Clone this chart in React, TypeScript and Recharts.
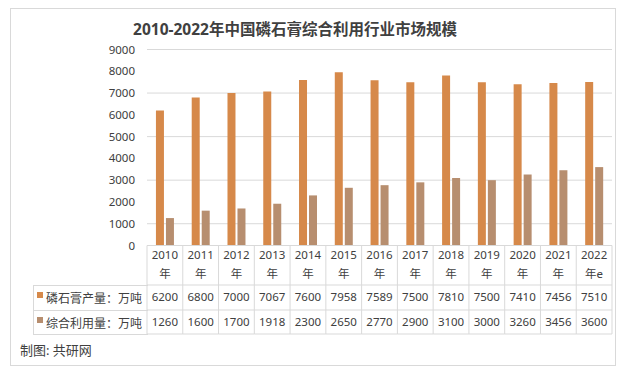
import { BarChart, Bar, XAxis, YAxis, CartesianGrid } from "recharts";

const categories = ["2010年", "2011年", "2012年", "2013年", "2014年", "2015年", "2016年", "2017年", "2018年", "2019年", "2020年", "2021年", "2022年e"];
const production = [6200, 6800, 7000, 7067, 7600, 7958, 7589, 7500, 7810, 7500, 7410, 7456, 7510];
const utilization = [1260, 1600, 1700, 1918, 2300, 2650, 2770, 2900, 3100, 3000, 3260, 3456, 3600];
const yTicks = [0, 1000, 2000, 3000, 4000, 5000, 6000, 7000, 8000, 9000];
const seriesNames = ["磷石膏产量：万吨", "综合利用量：万吨"];

const ORANGE = "#D6894A";
const BROWN = "#B78E6F";
const GRID = "#D9D9D9";
const TEXT = "#404040";
const FONT = "'Noto Sans', 'Noto Sans CJK SC', sans-serif";

const data = categories.map((c, i) => ({ name: c, production: production[i], utilization: utilization[i] }));

// plot geometry
const PLOT_LEFT = 147;
const PLOT_RIGHT = 612;
const PLOT_TOP = 49.5;
const PLOT_BOTTOM = 245.5;
const COL_W = (PLOT_RIGHT - PLOT_LEFT) / categories.length;

const TableColumn = (props: any) => {
  const { x, payload, index } = props;
  const y0 = PLOT_BOTTOM;
  const left = x - COL_W / 2;
  const right = x + COL_W / 2;
  const label: string = payload.value;
  const year = label.slice(0, 4);
  const suffix = label.slice(4);
  const isLast = index === categories.length - 1;
  return (
    <g>
      <line x1={left} y1={y0} x2={left} y2={334} stroke={GRID} />
      {isLast && <line x1={right} y1={y0} x2={right} y2={334} stroke={GRID} />}
      <line x1={left} y1={285} x2={right} y2={285} stroke={GRID} />
      <line x1={left} y1={310} x2={right} y2={310} stroke={GRID} />
      <line x1={left} y1={334} x2={right} y2={334} stroke={GRID} />
      <text x={x} y={259} textAnchor="middle" fontSize={11.5} fill={TEXT} fontFamily={FONT}>{year}</text>
      <text x={x} y={277.5} textAnchor="middle" fontSize={11.5} fill={TEXT} fontFamily={FONT}>{suffix}</text>
      <text x={x} y={301} textAnchor="middle" fontSize={11.5} fill={TEXT} fontFamily={FONT}>{production[index]}</text>
      <text x={x} y={325.5} textAnchor="middle" fontSize={11.5} fill={TEXT} fontFamily={FONT}>{utilization[index]}</text>
    </g>
  );
};

export default function App() {
  return (
    <div style={{ position: "absolute", left: 0, top: 0, width: 621, height: 374, background: "#fff", fontFamily: FONT }}>
      <div style={{ position: "absolute", left: 10, top: 8, width: 604, height: 356, border: `1px solid ${GRID}` }} />
      <div style={{ position: "absolute", left: 0, top: 17, width: 590, textAlign: "center", fontSize: 15.5, fontWeight: 700, color: TEXT }}>
        2010-2022年中国磷石膏综合利用行业市场规模
      </div>
      <BarChart
        width={621}
        height={374}
        data={data}
        margin={{ top: PLOT_TOP, right: 621 - PLOT_RIGHT, bottom: 0, left: 0 }}
        barCategoryGap="25%"
        barGap={2}
      >
        <CartesianGrid vertical={false} stroke={GRID} />
        <YAxis
          width={PLOT_LEFT}
          domain={[0, 9000]}
          ticks={yTicks}
          axisLine={false}
          tickLine={false}
          tickSize={0}
          tickMargin={12}
          tick={{ fontSize: 11.5, fill: TEXT, fontFamily: FONT }}
        />
        <XAxis
          dataKey="name"
          height={374 - PLOT_BOTTOM}
          interval={0}
          axisLine={{ stroke: GRID }}
          tickLine={false}
          tickSize={0}
          tickMargin={0}
          tick={<TableColumn />}
        />
        <Bar dataKey="production" fill={ORANGE} isAnimationActive={false} />
        <Bar dataKey="utilization" fill={BROWN} isAnimationActive={false} />
      </BarChart>
      {/* label column of the data table */}
      <div style={{ position: "absolute", left: 33, top: 285, width: PLOT_LEFT - 33 + 0.5, height: 49.5, borderLeft: `1px solid ${GRID}`, borderTop: `1px solid ${GRID}`, borderBottom: `1px solid ${GRID}`, boxSizing: "border-box" }}>
        <div style={{ position: "absolute", left: 0, right: 0, top: 24, height: 1, background: GRID }} />
        {seriesNames.map((n, i) => (
          <div key={n} style={{ position: "absolute", left: 3, top: i === 0 ? 3 : 28, height: 17, display: "flex", alignItems: "center", fontSize: 12, color: TEXT, whiteSpace: "nowrap" }}>
            <span style={{ display: "inline-block", width: 6, height: 6, background: i === 0 ? ORANGE : BROWN, marginRight: 3, marginTop: -6 }} />
            {n}
          </div>
        ))}
      </div>
      <div style={{ position: "absolute", left: 20, top: 340, fontSize: 13, color: TEXT }}>制图: 共研网</div>
    </div>
  );
}
